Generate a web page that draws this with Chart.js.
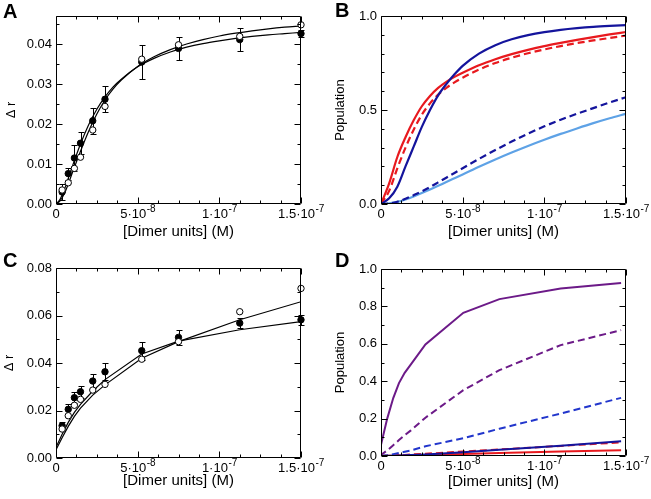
<!DOCTYPE html>
<html>
<head>
<meta charset="utf-8">
<script src="https://cdn.jsdelivr.net/npm/chart.js@4.4.1/dist/chart.umd.min.js"></script>
<style>
  body { margin: 0; background: #fff; }
  #wrap { position: relative; width: 651px; height: 499px; overflow: hidden; }
  #wrap canvas { position: absolute; left: 0; top: 0; }
  .lbl { position: absolute; font: bold 20px 'Liberation Sans', Arial, sans-serif; line-height: 20px; color: #000; }
</style>
</head>
<body>
<div id="wrap">
  <canvas id="cA" width="651" height="499"></canvas>
  <canvas id="cB" width="651" height="499"></canvas>
  <canvas id="cC" width="651" height="499"></canvas>
  <canvas id="cD" width="651" height="499"></canvas>
  <div class="lbl" style="left:3px;top:1px">A</div>
  <div class="lbl" style="left:335px;top:0px">B</div>
  <div class="lbl" style="left:3px;top:250px">C</div>
  <div class="lbl" style="left:335px;top:250px">D</div>
</div>
<script>
// shared x axis: tick values, label mantissa and exponent
const xTicks = [0, 5e-8, 1e-7, 1.5e-7];
const xTickMant = ['0', '5\u00b710', '1\u00b710', '1.5\u00b710'];
const xTickExp = ['', '-8', '-7', '-7'];

// measured concentrations (A, C)
const conc = [3.75e-9, 7.5e-9, 1.125e-8, 1.5e-8, 2.25e-8, 3e-8, 5.25e-8, 7.5e-8, 1.125e-7, 1.5e-7];

// panel A
const filledA = [0.0030, 0.0076, 0.0115, 0.0152, 0.0208, 0.0262, 0.0355, 0.0389, 0.0411, 0.0426];
const errA    = [0.0020, 0.0015, 0.0032, 0.0028, 0.0033, 0.0033, 0.0042, 0.0029, 0.0029, 0.0008];
const openA   = [0.0035, 0.0053, 0.0089, 0.0117, 0.0185, 0.0244, 0.0362, 0.0398, 0.0419, 0.0448];
const fitXA   = [0, 2.5e-9, 5e-9, 7.5e-9, 1e-8, 1.5e-8, 2e-8, 2.5e-8, 3e-8, 3.5e-8, 4e-8, 5e-8, 6e-8, 7e-8, 8e-8, 9e-8, 1e-7, 1.1e-7, 1.2e-7, 1.3e-7, 1.4e-7, 1.5e-7];
const fitFilledA = [0, 0.0012, 0.0035, 0.0064, 0.0094, 0.0150, 0.0198, 0.0237, 0.0268, 0.0293, 0.0312, 0.0343, 0.0364, 0.0380, 0.0392, 0.0401, 0.0408, 0.0414, 0.0419, 0.0423, 0.0426, 0.0429];
const fitOpenA   = [0, 0.0008, 0.0025, 0.0050, 0.0078, 0.0132, 0.0182, 0.0225, 0.0260, 0.0288, 0.0310, 0.0344, 0.0368, 0.0386, 0.0400, 0.0411, 0.0420, 0.0427, 0.0433, 0.0438, 0.0442, 0.0445];
const yTicksA = [0, 0.01, 0.02, 0.03, 0.04];

// panel C
const filledC = [0.0136, 0.0205, 0.0254, 0.0279, 0.0324, 0.0363, 0.0452, 0.0508, 0.0568, 0.0582];
const errC    = [0.0017, 0.0022, 0.0023, 0.0026, 0.0028, 0.0036, 0.0038, 0.0031, 0.0022, 0.0020];
const openC   = [0.0122, 0.0178, 0.0222, 0.0247, 0.0286, 0.0310, 0.0416, 0.0490, 0.0616, 0.0714];
const fitXC   = [0, 3.75e-9, 7.5e-9, 1.125e-8, 1.5e-8, 2.25e-8, 3e-8, 5.25e-8, 7.5e-8, 1.125e-7, 1.5e-7];
const fitFilledC = [0.0045, 0.0100, 0.0150, 0.0192, 0.0226, 0.0282, 0.0330, 0.0438, 0.0492, 0.0540, 0.0574];
const fitOpenC   = [0.0035, 0.0085, 0.0133, 0.0175, 0.0210, 0.0265, 0.0308, 0.0420, 0.0490, 0.0582, 0.0658];
const yTicksC = [0, 0.02, 0.04, 0.06, 0.08];

// panel B
const popX = [0, 5e-9, 1e-8, 1.5e-8, 2e-8, 2.5e-8, 3e-8, 3.5e-8, 4e-8, 4.5e-8, 5e-8, 6e-8, 7e-8, 8e-8, 9e-8, 1e-7, 1.1e-7, 1.2e-7, 1.3e-7, 1.4e-7, 1.5e-7];
const navySolidB = [0, 0.03, 0.092, 0.2, 0.305, 0.41, 0.50, 0.578, 0.638, 0.69, 0.735, 0.80, 0.845, 0.876, 0.898, 0.914, 0.926, 0.935, 0.942, 0.947, 0.951];
const redSolidB  = [0, 0.11, 0.25, 0.355, 0.445, 0.52, 0.575, 0.618, 0.65, 0.676, 0.698, 0.738, 0.77, 0.797, 0.82, 0.84, 0.857, 0.873, 0.888, 0.902, 0.915];
const redDashB   = [0, 0.07, 0.19, 0.30, 0.395, 0.475, 0.535, 0.582, 0.618, 0.647, 0.672, 0.715, 0.75, 0.778, 0.802, 0.822, 0.84, 0.856, 0.87, 0.883, 0.896];
const navyDashB  = [0, 0.003, 0.012, 0.028, 0.047, 0.067, 0.09, 0.115, 0.14, 0.165, 0.19, 0.24, 0.287, 0.332, 0.374, 0.413, 0.448, 0.48, 0.51, 0.54, 0.568];
const lightBlueB = [0, 0.003, 0.011, 0.024, 0.04, 0.058, 0.077, 0.097, 0.117, 0.137, 0.157, 0.198, 0.237, 0.274, 0.309, 0.342, 0.373, 0.402, 0.43, 0.456, 0.48];
const yTicksB = [0, 0.5, 1.0];

// panel D
const dX = [0, 0, 3.8e-9, 7.5e-9, 1.1e-8, 1.45e-8, 1.83e-8, 2.72e-8, 5.04e-8, 7.25e-8, 1.1e-7, 1.47e-7];
const purpleSolidD = [0, 0.06, 0.2, 0.31, 0.39, 0.445, 0.49, 0.597, 0.766, 0.839, 0.896, 0.925];
const purpleDashD  = [0, 0.005, 0.03, 0.058, 0.085, 0.111, 0.137, 0.205, 0.352, 0.459, 0.593, 0.673];
const blueDashD    = [0, 0, 0.004, 0.01, 0.016, 0.023, 0.03, 0.052, 0.095, 0.146, 0.227, 0.311];
const navySolidD   = [0, 0, 0.001, 0.002, 0.003, 0.004, 0.005, 0.008, 0.02, 0.033, 0.055, 0.079];
const redDashD     = [0, 0, 0.002, 0.003, 0.005, 0.006, 0.008, 0.012, 0.024, 0.035, 0.054, 0.073];
const redSolidD    = [0, 0, 0.001, 0.002, 0.003, 0.003, 0.004, 0.006, 0.011, 0.016, 0.024, 0.031];
const yTicksD = [0, 0.2, 0.4, 0.6, 0.8, 1.0];

const FONT = "'Liberation Sans', Arial, sans-serif";
const NAVY = '#14149c', RED = '#e8191e', LIGHT = '#5ea2e6', PURPLE = '#6c1a88', BLUE = '#2236cc';

function pts(xs, ys) { return xs.map((x, i) => ({ x: x, y: ys[i] })); }

function marks(xs, ys, fill) {
  return { data: pts(xs, ys), showLine: false, pointRadius: 3.2, pointBorderWidth: 1,
    backgroundColor: fill, pointBackgroundColor: fill, borderColor: '#000', pointBorderColor: '#000', clip: false };
}
function curve(xs, ys, color, width, dash, smooth) {
  return { data: pts(xs, ys), showLine: true, pointRadius: 0, borderColor: color, borderWidth: width,
    borderDash: dash || [], fill: false, cubicInterpolationMode: smooth ? 'monotone' : 'default', tension: 0 };
}

// box + inward ticks on all four sides, and x tick labels with raised exponents
const frameTicks = {
  id: 'frameTicks',
  afterDatasetsDraw(chart, args, o) {
    const { ctx, chartArea: a, scales: { x, y } } = chart;
    const L = Math.round(a.left) + 0.5, R = Math.round(a.right) - 0.5;
    const T = Math.round(a.top) + 0.5, B = Math.round(a.bottom) - 0.5;
    ctx.save();
    ctx.strokeStyle = '#000';
    ctx.lineWidth = 1;
    ctx.beginPath();
    ctx.rect(L, T, R - L, B - T);
    for (let i = 0; i * o.xMinor <= x.max * 1.0001; i++) {
      const v = i * o.xMinor;
      const major = xTicks.some(t => Math.abs(t - v) < o.xMinor / 100);
      const len = major ? 6 : 3;
      const px = Math.round(x.getPixelForValue(v)) + 0.5;
      ctx.moveTo(px, B); ctx.lineTo(px, B - len);
      ctx.moveTo(px, T); ctx.lineTo(px, T + len);
    }
    for (let i = 0; i * o.yMinor <= y.max * 1.0001; i++) {
      const v = i * o.yMinor;
      const major = y.ticks.some(t => Math.abs(t.value - v) < o.yMinor / 100);
      const len = major ? 6 : 3;
      const py = Math.round(y.getPixelForValue(v)) + 0.5;
      ctx.moveTo(L, py); ctx.lineTo(L + len, py);
      ctx.moveTo(R, py); ctx.lineTo(R - len, py);
    }
    ctx.stroke();

    ctx.fillStyle = '#000';
    ctx.textBaseline = 'alphabetic';
    ctx.textAlign = 'left';
    const base = a.bottom + 14;
    xTicks.forEach((v, i) => {
      ctx.font = '13px ' + FONT;
      const wm = ctx.measureText(xTickMant[i]).width;
      ctx.font = '10px ' + FONT;
      const we = xTickExp[i] ? ctx.measureText(xTickExp[i]).width : 0;
      const left = x.getPixelForValue(v) - (wm + we) / 2;
      ctx.font = '13px ' + FONT;
      ctx.fillText(xTickMant[i], left, base);
      if (xTickExp[i]) {
        ctx.font = '10px ' + FONT;
        ctx.fillText(xTickExp[i], left + wm + 0.5, base - 6);
      }
    });
    ctx.restore();
  }
};

// symmetric error bars, drawn under the markers
const errorBars = {
  id: 'errorBars',
  beforeDatasetsDraw(chart, args, o) {
    const { ctx, scales: { x, y } } = chart;
    ctx.save();
    ctx.strokeStyle = '#000';
    ctx.lineWidth = 1;
    ctx.beginPath();
    o.xs.forEach((xv, i) => {
      const px = Math.round(x.getPixelForValue(xv)) + 0.5;
      const hi = Math.round(y.getPixelForValue(o.ys[i] + o.errs[i])) + 0.5;
      const lo = Math.round(y.getPixelForValue(o.ys[i] - o.errs[i])) + 0.5;
      ctx.moveTo(px, hi); ctx.lineTo(px, lo);
      ctx.moveTo(px - 3, hi); ctx.lineTo(px + 3, hi);
      ctx.moveTo(px - 3, lo); ctx.lineTo(px + 3, lo);
    });
    ctx.stroke();
    ctx.restore();
  }
};

function panel(id, o) {
  return new Chart(document.getElementById(id), {
    type: 'scatter',
    data: { datasets: o.datasets },
    options: {
      responsive: false,
      animation: false,
      events: [],
      layout: { padding: o.padding },
      plugins: {
        legend: { display: false },
        tooltip: { enabled: false },
        frameTicks: { xMinor: 1.25e-8, yMinor: o.yMinor },
        errorBars: o.errorBars || false
      },
      scales: {
        x: {
          type: 'linear', min: 0, max: 1.5e-7,
          grid: { display: false, drawTicks: false },
          border: { display: false },
          afterBuildTicks: s => { s.ticks = xTicks.map(v => ({ value: v })); },
          afterFit: s => { s.height = o.xAxisH; s.paddingLeft = 0; s.paddingRight = 0; },
          ticks: { display: false },
          title: { display: true, text: '[Dimer units] (M)', color: '#000',
            font: { family: FONT, size: 15 }, padding: { top: 0, bottom: o.xTitlePad } }
        },
        y: {
          type: 'linear', min: 0, max: o.yMax,
          grid: { display: false, drawTicks: false },
          border: { display: false },
          afterBuildTicks: s => { s.ticks = o.yTicks.map(v => ({ value: v })); },
          afterFit: s => { s.width = 56; s.paddingTop = 0; s.paddingBottom = 0; },
          ticks: { autoSkip: false, padding: 4, color: '#000',
            font: { family: FONT, size: 13 }, callback: v => v.toFixed(o.yDigits) },
          title: { display: true, text: o.yTitle, color: '#000',
            font: { family: FONT, size: 13 }, padding: { top: o.yTitlePad, bottom: 0 } }
        }
      }
    },
    plugins: [frameTicks, errorBars]
  });
}

panel('cA', {
  padding: { left: 0, top: 16, right: 350, bottom: 250 },
  xAxisH: 45, xTitlePad: 8, yTitlePad: 4,
  yMax: 0.047, yTicks: yTicksA, yMinor: 0.005, yDigits: 2, yTitle: '\u0394 r',
  errorBars: { xs: conc, ys: filledA, errs: errA },
  datasets: [
    marks(conc, openA, '#fff'),
    marks(conc, filledA, '#000'),
    curve(fitXA, fitFilledA, '#000', 1.2, null, true),
    curve(fitXA, fitOpenA, '#000', 1.2, null, true)
  ]
});

panel('cB', {
  padding: { left: 325, top: 16, right: 25, bottom: 250 },
  xAxisH: 45, xTitlePad: 8, yTitlePad: 8,
  yMax: 1.0, yTicks: yTicksB, yMinor: 0.1, yDigits: 1, yTitle: 'Population',
  datasets: [
    curve(popX, navySolidB, NAVY, 2.2, null, true),
    curve(popX, redSolidB, RED, 2.2, null, true),
    curve(popX, redDashB, RED, 2.2, [7, 4], true),
    curve(popX, navyDashB, NAVY, 2.2, [7, 4], true),
    curve(popX, lightBlueB, LIGHT, 2.2, null, true)
  ]
});

panel('cC', {
  padding: { left: 0, top: 268, right: 350, bottom: 0 },
  xAxisH: 41, xTitlePad: 9, yTitlePad: 2,
  yMax: 0.08, yTicks: yTicksC, yMinor: 0.01, yDigits: 2, yTitle: '\u0394 r',
  errorBars: { xs: conc, ys: filledC, errs: errC },
  datasets: [
    marks(conc, openC, '#fff'),
    marks(conc, filledC, '#000'),
    curve(fitXC, fitFilledC, '#000', 1.2, null, false),
    curve(fitXC, fitOpenC, '#000', 1.2, null, false)
  ]
});

panel('cD', {
  padding: { left: 325, top: 269, right: 25, bottom: 0 },
  xAxisH: 43, xTitlePad: 8, yTitlePad: 8,
  yMax: 1.0, yTicks: yTicksD, yMinor: 0.1, yDigits: 1, yTitle: 'Population',
  datasets: [
    curve(dX, purpleSolidD, PURPLE, 2, null, false),
    curve(dX, purpleDashD, PURPLE, 2, [7, 4], false),
    curve(dX, blueDashD, BLUE, 2, [7, 4], false),
    curve(dX, navySolidD, NAVY, 2, null, false),
    curve(dX, redDashD, RED, 2, [7, 4], false),
    curve(dX, redSolidD, RED, 2, null, false)
  ]
});
</script>
</body>
</html>
